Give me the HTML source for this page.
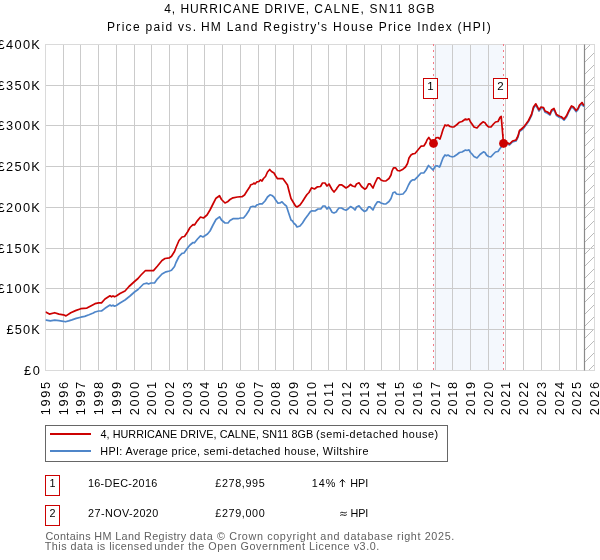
<!DOCTYPE html>
<html><head><meta charset="utf-8"><title>4, HURRICANE DRIVE, CALNE, SN11 8GB</title>
<style>html,body{margin:0;padding:0;background:#fff;}body{width:600px;height:560px;overflow:hidden;font-family:"Liberation Sans",sans-serif;}svg{display:block}</style>
</head><body>
<svg width="600" height="560" viewBox="0 0 600 560" font-family="Liberation Sans, sans-serif">
<defs><clipPath id="pc"><rect x="45.5" y="44.5" width="549.0" height="326.0"/></clipPath></defs>
<rect width="600" height="560" fill="#ffffff"/>
<g style="opacity:0.999">
<rect x="433.5" y="44.5" width="70.0" height="326.0" fill="#f4f8fd"/>
<clipPath id="hc"><rect x="584.5" y="44.5" width="10.0" height="326.0"/></clipPath>
<path clip-path="url(#hc)" d="M583.5,51.5L595.5,39.5M583.5,63.5L595.5,51.5M583.5,75.5L595.5,63.5M583.5,87.5L595.5,75.5M583.5,99.5L595.5,87.5M583.5,111.5L595.5,99.5M583.5,123.5L595.5,111.5M583.5,135.5L595.5,123.5M583.5,147.5L595.5,135.5M583.5,159.5L595.5,147.5M583.5,171.5L595.5,159.5M583.5,183.5L595.5,171.5M583.5,195.5L595.5,183.5M583.5,207.5L595.5,195.5M583.5,219.5L595.5,207.5M583.5,231.5L595.5,219.5M583.5,243.5L595.5,231.5M583.5,255.5L595.5,243.5M583.5,267.5L595.5,255.5M583.5,279.5L595.5,267.5M583.5,291.5L595.5,279.5M583.5,303.5L595.5,291.5M583.5,315.5L595.5,303.5M583.5,327.5L595.5,315.5M583.5,339.5L595.5,327.5M583.5,351.5L595.5,339.5M583.5,363.5L595.5,351.5M583.5,375.5L595.5,363.5M583.5,387.5L595.5,375.5" stroke="#8c8c8c" stroke-width="0.6" fill="none"/>
<path d="M63.5,44.5V370.5M80.5,44.5V370.5M98.5,44.5V370.5M116.5,44.5V370.5M134.5,44.5V370.5M151.5,44.5V370.5M169.5,44.5V370.5M187.5,44.5V370.5M204.5,44.5V370.5M222.5,44.5V370.5M240.5,44.5V370.5M258.5,44.5V370.5M275.5,44.5V370.5M293.5,44.5V370.5M311.5,44.5V370.5M328.5,44.5V370.5M346.5,44.5V370.5M364.5,44.5V370.5M381.5,44.5V370.5M399.5,44.5V370.5M417.5,44.5V370.5M435.5,44.5V370.5M452.5,44.5V370.5M470.5,44.5V370.5M488.5,44.5V370.5M505.5,44.5V370.5M523.5,44.5V370.5M541.5,44.5V370.5M559.5,44.5V370.5M576.5,44.5V370.5M45.5,329.5H594.5M45.5,288.5H594.5M45.5,248.5H594.5M45.5,207.5H594.5M45.5,166.5H594.5M45.5,125.5H594.5M45.5,85.5H594.5" stroke="#cbcbcb" stroke-width="1" fill="none" shape-rendering="crispEdges"/>
<rect x="45.5" y="44.5" width="549.0" height="326.0" fill="none" stroke="#dadada" stroke-width="1" shape-rendering="crispEdges"/>
<path d="M584.5,44.5V370.5" stroke="#8a8a8a" stroke-width="1.2" fill="none"/>
<path d="M433.5,44.0V370.5" stroke="#f47a86" stroke-width="1" stroke-dasharray="2 4" fill="none"/>
<path d="M503.5,44.0V370.5" stroke="#f47a86" stroke-width="1" stroke-dasharray="2 4" fill="none"/>
<g clip-path="url(#pc)" fill="none" stroke-linejoin="round" stroke-linecap="round">
<polyline points="46.1,320.2 50.4,320.9 54.7,320.2 59.0,320.7 63.4,321.3 65.4,321.8 68.7,320.9 71.9,319.9 76.2,318.4 80.8,317.2 84.7,316.4 89.0,314.8 93.3,313.0 95.0,312.0 98.7,311.0 101.5,311.0 105.0,308.3 110.0,305.0 111.5,306.0 113.0,305.2 114.5,306.2 116.3,305.5 120.0,303.0 125.0,300.0 130.0,296.0 134.5,292.0 138.0,289.5 141.0,286.5 143.5,284.0 147.0,283.2 148.5,284.0 151.0,283.0 154.5,283.0 157.5,278.8 162.0,274.0 166.0,271.8 169.5,271.0 171.5,270.3 174.5,266.5 176.0,262.5 179.0,256.5 182.0,253.3 184.0,253.0 187.5,248.0 190.0,245.0 193.0,242.5 194.5,242.8 197.5,239.0 200.5,235.8 203.0,237.0 204.5,236.0 207.5,234.0 210.0,231.0 213.0,225.0 216.0,219.5 219.5,216.8 221.5,220.0 225.0,223.0 228.0,223.0 230.0,220.5 233.0,218.7 238.0,218.7 240.5,218.0 243.5,218.0 246.0,215.0 249.0,210.5 250.5,207.0 253.0,206.3 255.0,206.8 257.0,204.8 258.3,204.5 260.0,203.8 262.2,203.8 265.0,201.0 267.5,197.0 270.0,194.8 272.0,195.5 274.0,197.2 275.7,200.0 278.0,203.2 280.0,203.0 282.0,201.8 284.5,204.5 286.5,206.2 288.0,211.0 290.0,217.0 291.0,220.0 292.5,221.0 294.0,223.5 295.5,224.5 297.0,227.0 300.0,226.0 302.5,223.0 305.0,219.0 308.0,215.0 310.5,211.5 312.0,210.8 315.0,211.0 318.0,209.0 321.0,208.8 323.0,206.0 325.0,206.0 327.0,209.0 328.7,207.0 330.0,208.5 332.0,212.2 334.0,213.0 336.5,211.8 337.0,210.5 339.0,208.0 341.5,208.0 344.0,209.5 346.0,210.2 348.0,209.0 350.5,206.5 353.0,208.0 355.0,210.0 356.5,207.0 359.0,205.8 361.5,209.0 364.5,211.5 366.5,210.5 368.5,206.8 370.0,206.8 373.0,210.0 375.0,205.5 377.5,201.8 379.0,201.8 381.0,203.0 384.0,204.0 386.0,203.8 389.0,201.5 391.0,198.5 393.0,192.8 395.0,192.0 396.5,194.0 399.5,194.5 403.0,194.0 406.0,190.5 408.5,185.0 410.5,181.5 412.5,179.8 414.5,179.8 417.5,176.8 421.0,173.0 424.0,172.8 426.0,170.0 428.5,165.5 430.0,167.0 433.0,170.0 435.5,166.0 437.0,165.8 439.5,167.0 440.3,165.5 441.5,162.0 443.0,158.0 445.0,155.0 446.5,155.8 448.0,155.0 450.0,156.2 452.0,156.8 454.0,156.5 457.0,154.5 459.5,152.5 462.0,152.0 465.5,150.0 467.0,150.5 469.0,149.8 470.5,152.5 472.0,154.0 474.0,156.5 477.0,158.0 480.0,154.5 483.5,151.8 485.0,152.5 486.5,155.0 488.5,156.5 491.0,156.8 493.5,154.0 495.5,152.0 498.0,151.5 500.0,148.5 502.0,146.0 503.5,144.0 507.0,143.5 509.5,145.0 512.5,142.0 516.0,141.0 518.0,137.0 519.5,131.6 521.5,130.1 523.7,128.1 526.0,125.1 528.5,121.6 531.5,115.6 533.5,108.2 535.8,105.0 537.5,108.2 539.0,111.0 541.0,108.2 543.5,108.7 545.0,112.2 547.5,113.2 550.0,115.1 551.5,111.2 554.0,109.7 556.5,115.6 559.6,117.4 561.5,117.9 564.0,120.2 566.5,116.9 569.0,111.5 571.5,107.1 573.5,108.2 576.2,111.7 578.0,109.7 579.5,106.2 582.0,103.7 583.5,106.2" stroke="#4f86c9" stroke-width="1.7"/>
<polyline points="46.1,312.2 49.4,314.1 54.7,312.7 59.0,314.1 63.4,314.8 66.0,315.9 70.8,312.7 75.5,310.6 80.8,308.7 86.9,308.1 92.2,305.2 95.0,303.7 98.7,302.8 101.5,302.8 105.0,299.0 110.0,295.8 111.5,296.8 113.0,295.9 114.5,296.8 116.3,296.0 120.0,293.5 125.0,291.0 129.0,286.5 134.5,281.5 138.0,278.5 141.0,275.0 145.5,270.5 153.5,270.6 157.5,266.0 162.0,260.5 165.0,258.5 169.5,257.8 171.5,256.3 174.5,251.5 176.0,247.5 179.0,240.5 182.0,237.0 184.5,236.5 187.5,232.0 190.0,227.5 193.0,224.6 194.5,224.9 197.5,220.6 200.5,217.0 203.5,218.0 207.0,215.0 210.0,210.0 213.0,204.0 216.0,198.2 219.5,195.7 221.5,199.5 225.0,203.0 227.5,201.8 230.0,199.5 233.0,197.8 237.5,197.0 242.0,196.7 244.5,195.0 247.0,191.0 250.0,186.5 250.5,185.0 253.0,184.0 254.0,183.0 255.0,184.0 257.0,181.8 259.0,181.5 260.5,179.8 262.0,181.0 263.5,178.5 265.5,176.5 267.5,172.0 269.7,169.5 271.5,171.5 274.0,173.0 275.7,176.0 277.5,178.7 283.0,178.7 285.0,181.5 287.5,185.0 289.0,191.0 291.0,198.5 293.7,203.0 295.5,206.0 297.0,207.0 300.0,205.0 302.5,201.5 305.0,197.5 307.0,194.5 309.0,192.5 311.5,187.8 314.5,189.0 317.5,186.8 320.5,186.5 322.5,183.0 325.0,183.0 327.0,186.0 329.0,184.0 332.0,189.5 334.0,192.0 336.5,189.0 337.0,188.0 339.5,184.8 341.5,184.8 344.0,186.5 346.0,188.0 348.0,186.8 350.5,184.5 352.5,186.0 355.0,186.8 356.5,184.0 359.0,182.8 361.5,186.5 364.7,189.2 366.5,188.0 368.5,183.8 370.0,183.8 373.0,188.0 375.0,183.0 377.5,177.8 379.0,177.8 381.0,180.0 383.5,181.0 386.0,180.8 389.0,178.5 391.0,175.0 392.0,171.0 393.5,167.8 395.5,167.8 397.5,170.5 400.0,170.8 403.0,169.2 405.5,167.0 407.5,163.5 409.0,158.0 411.0,155.0 413.0,153.8 415.0,153.5 417.5,150.5 421.0,146.2 424.0,145.8 426.0,142.5 427.0,140.0 428.8,137.5 430.5,140.0 433.5,143.5 436.0,137.8 438.0,137.5 440.0,139.0 441.5,134.5 443.0,129.5 445.0,125.0 446.5,125.8 448.0,125.0 450.0,126.5 452.0,127.0 454.0,126.8 457.0,124.5 459.5,122.2 462.0,121.5 465.5,119.0 467.0,119.8 469.0,118.8 470.5,122.0 472.0,124.0 474.0,127.0 477.0,128.0 480.0,124.5 483.0,121.8 485.0,122.8 486.5,125.0 488.5,126.8 491.0,127.0 493.5,124.0 495.5,122.0 498.0,121.5 500.0,117.5 501.2,116.4 503.5,143.5 507.0,142.5 509.5,144.0 512.5,141.0 516.0,140.0 518.0,136.0 519.5,130.5 521.5,129.0 523.7,127.0 526.0,124.0 528.5,120.5 531.5,114.5 533.5,107.0 535.8,103.8 537.5,107.0 539.0,109.8 541.0,107.0 543.5,107.5 545.0,111.0 547.5,112.0 550.0,114.0 551.5,110.0 554.0,108.5 556.5,114.5 559.6,116.3 561.5,116.8 564.0,119.1 566.5,115.8 569.0,110.3 571.5,105.9 573.5,107.0 576.2,110.5 578.0,108.5 579.5,105.0 582.0,102.5 583.5,105.0" stroke="#cc0000" stroke-width="1.7"/>
</g>
<circle cx="433.5" cy="143.4" r="4.4" fill="#cc0000"/>
<circle cx="503.5" cy="143.4" r="4.4" fill="#cc0000"/>
<rect x="423.5" y="78.5" width="14" height="20" fill="#fff" stroke="#cc0000" stroke-width="1"/>
<text x="430.5" y="90" font-size="11.5" text-anchor="middle" fill="#000">1</text>
<rect x="493.5" y="78.5" width="14" height="20" fill="#fff" stroke="#cc0000" stroke-width="1"/>
<text x="500.5" y="90" font-size="11.5" text-anchor="middle" fill="#000">2</text>
<rect x="45.5" y="425.5" width="402" height="36" fill="#fff" stroke="#666" stroke-width="1"/>
<path d="M50,434H91" stroke="#cc0000" stroke-width="2"/>
<path d="M50,451H91" stroke="#4f86c9" stroke-width="2"/>
<rect x="45.5" y="475.5" width="14" height="20" fill="#fff" stroke="#cc0000" stroke-width="1"/>
<rect x="45.5" y="505.5" width="14" height="20" fill="#fff" stroke="#cc0000" stroke-width="1"/>
<text id="y0" x="39.9" y="374.9" font-size="12.8" text-anchor="end" fill="#000" textLength="16" lengthAdjust="spacing">£0</text>
<text id="y50K" x="39.9" y="333.9" font-size="12.8" text-anchor="end" fill="#000" textLength="33.5" lengthAdjust="spacing">£50K</text>
<text id="y100K" x="39.9" y="292.9" font-size="12.8" text-anchor="end" fill="#000" textLength="42.3" lengthAdjust="spacing">£100K</text>
<text id="y150K" x="39.9" y="252.9" font-size="12.8" text-anchor="end" fill="#000" textLength="42.3" lengthAdjust="spacing">£150K</text>
<text id="y200K" x="39.9" y="211.9" font-size="12.8" text-anchor="end" fill="#000" textLength="42.3" lengthAdjust="spacing">£200K</text>
<text id="y250K" x="39.9" y="170.9" font-size="12.8" text-anchor="end" fill="#000" textLength="42.3" lengthAdjust="spacing">£250K</text>
<text id="y300K" x="39.9" y="129.9" font-size="12.8" text-anchor="end" fill="#000" textLength="42.3" lengthAdjust="spacing">£300K</text>
<text id="y350K" x="39.9" y="89.9" font-size="12.8" text-anchor="end" fill="#000" textLength="42.3" lengthAdjust="spacing">£350K</text>
<text id="y400K" x="39.9" y="48.9" font-size="12.8" text-anchor="end" fill="#000" textLength="42.3" lengthAdjust="spacing">£400K</text>
<text transform="translate(49.9,415.2) rotate(-90)" font-size="12.8" textLength="33.3" lengthAdjust="spacing" fill="#000" id="x1995">1995</text>
<text transform="translate(67.9,415.2) rotate(-90)" font-size="12.8" textLength="33.3" lengthAdjust="spacing" fill="#000" id="x1996">1996</text>
<text transform="translate(84.9,415.2) rotate(-90)" font-size="12.8" textLength="33.3" lengthAdjust="spacing" fill="#000" id="x1997">1997</text>
<text transform="translate(102.9,415.2) rotate(-90)" font-size="12.8" textLength="33.3" lengthAdjust="spacing" fill="#000" id="x1998">1998</text>
<text transform="translate(120.9,415.2) rotate(-90)" font-size="12.8" textLength="33.3" lengthAdjust="spacing" fill="#000" id="x1999">1999</text>
<text transform="translate(138.9,415.2) rotate(-90)" font-size="12.8" textLength="33.3" lengthAdjust="spacing" fill="#000" id="x2000">2000</text>
<text transform="translate(155.9,415.2) rotate(-90)" font-size="12.8" textLength="33.3" lengthAdjust="spacing" fill="#000" id="x2001">2001</text>
<text transform="translate(173.9,415.2) rotate(-90)" font-size="12.8" textLength="33.3" lengthAdjust="spacing" fill="#000" id="x2002">2002</text>
<text transform="translate(191.9,415.2) rotate(-90)" font-size="12.8" textLength="33.3" lengthAdjust="spacing" fill="#000" id="x2003">2003</text>
<text transform="translate(208.9,415.2) rotate(-90)" font-size="12.8" textLength="33.3" lengthAdjust="spacing" fill="#000" id="x2004">2004</text>
<text transform="translate(226.9,415.2) rotate(-90)" font-size="12.8" textLength="33.3" lengthAdjust="spacing" fill="#000" id="x2005">2005</text>
<text transform="translate(244.9,415.2) rotate(-90)" font-size="12.8" textLength="33.3" lengthAdjust="spacing" fill="#000" id="x2006">2006</text>
<text transform="translate(262.9,415.2) rotate(-90)" font-size="12.8" textLength="33.3" lengthAdjust="spacing" fill="#000" id="x2007">2007</text>
<text transform="translate(279.9,415.2) rotate(-90)" font-size="12.8" textLength="33.3" lengthAdjust="spacing" fill="#000" id="x2008">2008</text>
<text transform="translate(297.9,415.2) rotate(-90)" font-size="12.8" textLength="33.3" lengthAdjust="spacing" fill="#000" id="x2009">2009</text>
<text transform="translate(315.9,415.2) rotate(-90)" font-size="12.8" textLength="33.3" lengthAdjust="spacing" fill="#000" id="x2010">2010</text>
<text transform="translate(332.9,415.2) rotate(-90)" font-size="12.8" textLength="33.3" lengthAdjust="spacing" fill="#000" id="x2011">2011</text>
<text transform="translate(350.9,415.2) rotate(-90)" font-size="12.8" textLength="33.3" lengthAdjust="spacing" fill="#000" id="x2012">2012</text>
<text transform="translate(368.9,415.2) rotate(-90)" font-size="12.8" textLength="33.3" lengthAdjust="spacing" fill="#000" id="x2013">2013</text>
<text transform="translate(385.9,415.2) rotate(-90)" font-size="12.8" textLength="33.3" lengthAdjust="spacing" fill="#000" id="x2014">2014</text>
<text transform="translate(403.9,415.2) rotate(-90)" font-size="12.8" textLength="33.3" lengthAdjust="spacing" fill="#000" id="x2015">2015</text>
<text transform="translate(421.9,415.2) rotate(-90)" font-size="12.8" textLength="33.3" lengthAdjust="spacing" fill="#000" id="x2016">2016</text>
<text transform="translate(439.9,415.2) rotate(-90)" font-size="12.8" textLength="33.3" lengthAdjust="spacing" fill="#000" id="x2017">2017</text>
<text transform="translate(456.9,415.2) rotate(-90)" font-size="12.8" textLength="33.3" lengthAdjust="spacing" fill="#000" id="x2018">2018</text>
<text transform="translate(474.9,415.2) rotate(-90)" font-size="12.8" textLength="33.3" lengthAdjust="spacing" fill="#000" id="x2019">2019</text>
<text transform="translate(492.9,415.2) rotate(-90)" font-size="12.8" textLength="33.3" lengthAdjust="spacing" fill="#000" id="x2020">2020</text>
<text transform="translate(509.9,415.2) rotate(-90)" font-size="12.8" textLength="33.3" lengthAdjust="spacing" fill="#000" id="x2021">2021</text>
<text transform="translate(527.9,415.2) rotate(-90)" font-size="12.8" textLength="33.3" lengthAdjust="spacing" fill="#000" id="x2022">2022</text>
<text transform="translate(545.9,415.2) rotate(-90)" font-size="12.8" textLength="33.3" lengthAdjust="spacing" fill="#000" id="x2023">2023</text>
<text transform="translate(563.9,415.2) rotate(-90)" font-size="12.8" textLength="33.3" lengthAdjust="spacing" fill="#000" id="x2024">2024</text>
<text transform="translate(580.9,415.2) rotate(-90)" font-size="12.8" textLength="33.3" lengthAdjust="spacing" fill="#000" id="x2025">2025</text>
<text transform="translate(598.9,415.2) rotate(-90)" font-size="12.8" textLength="33.3" lengthAdjust="spacing" fill="#000" id="x2026">2026</text>
<text x="52.5" y="486.8" font-size="10.8" text-anchor="middle" fill="#000">1</text>
<path d="M342.4,487V479.7M339.8,482.3L342.4,479.5L345.0,482.3" stroke="#000" stroke-width="0.95" fill="none"/>
<text x="52.5" y="516.8" font-size="10.8" text-anchor="middle" fill="#000">2</text>
<path d="M340.2,513.0q1.6,-1.4 3.3,-0.4t3.3,-0.5M340.2,515.5q1.6,-1.4 3.3,-0.4t3.3,-0.5" stroke="#000" stroke-width="0.9" fill="none"/>
<text id="t1a" x="164.26" y="12.6" font-size="12" text-anchor="start" fill="#000" textLength="144.88" lengthAdjust="spacing">4, HURRICANE DRIVE,</text>
<text id="t1b" x="314.35" y="12.6" font-size="12" text-anchor="start" fill="#000" textLength="120.23" lengthAdjust="spacing">CALNE, SN11 8GB</text>
<text id="t2a" x="107.02" y="31.0" font-size="12" text-anchor="start" fill="#000" textLength="88.99" lengthAdjust="spacing">Price paid vs.</text>
<text id="t2b" x="200.91" y="31.0" font-size="12" text-anchor="start" fill="#000" textLength="289.83" lengthAdjust="spacing">HM Land Registry's House Price Index (HPI)</text>
<text id="l1a" x="100.5" y="438" font-size="10.8" text-anchor="start" fill="#000" textLength="212.61" lengthAdjust="spacing">4, HURRICANE DRIVE, CALNE, SN11 8GB</text>
<text id="l1b" x="316.09" y="438" font-size="10.8" text-anchor="start" fill="#000" textLength="122.13" lengthAdjust="spacing">(semi-detached house)</text>
<text id="l2a" x="100.2" y="455" font-size="10.8" text-anchor="start" fill="#000" textLength="99.72" lengthAdjust="spacing">HPI: Average price,</text>
<text id="l2b" x="203.67" y="455" font-size="10.8" text-anchor="start" fill="#000" textLength="115.45" lengthAdjust="spacing">semi-detached house,</text>
<text id="l2c" x="322.72" y="455" font-size="10.8" text-anchor="start" fill="#000" textLength="45.78" lengthAdjust="spacing">Wiltshire</text>
<text id="d1" x="87.9" y="486.8" font-size="10.8" text-anchor="start" fill="#000" textLength="69.35" lengthAdjust="spacing">16-DEC-2016</text>
<text id="d2" x="88.04" y="516.8" font-size="10.8" text-anchor="start" fill="#000" textLength="70.28" lengthAdjust="spacing">27-NOV-2020</text>
<text id="p1" x="215.3" y="486.8" font-size="10.8" text-anchor="start" fill="#000" textLength="49.43" lengthAdjust="spacing">£278,995</text>
<text id="p2" x="215.3" y="516.8" font-size="10.8" text-anchor="start" fill="#000" textLength="49.42" lengthAdjust="spacing">£279,000</text>
<text id="pc" x="311.74" y="486.8" font-size="10.8" text-anchor="start" fill="#000" textLength="23.6" lengthAdjust="spacing">14%</text>
<text id="h1" x="350.15" y="486.8" font-size="10.8" text-anchor="start" fill="#000" textLength="18.05" lengthAdjust="spacing">HPI</text>
<text id="h2" x="350.58" y="516.8" font-size="10.8" text-anchor="start" fill="#000" textLength="17.61" lengthAdjust="spacing">HPI</text>
<text id="f1a" x="45.42" y="540" font-size="10.8" text-anchor="start" fill="#606060" textLength="140.81" lengthAdjust="spacing">Contains HM Land Registry</text>
<text id="f1b" x="189.84" y="540" font-size="10.8" text-anchor="start" fill="#606060" textLength="264.43" lengthAdjust="spacing">data © Crown copyright and database right 2025.</text>
<text id="f2a" x="44.77" y="550" font-size="10.8" text-anchor="start" fill="#606060" textLength="107.41" lengthAdjust="spacing">This data is licensed</text>
<text id="f2b" x="154.19" y="550" font-size="10.8" text-anchor="start" fill="#606060" textLength="225.08" lengthAdjust="spacing">under the Open Government Licence v3.0.</text>
</g>
</svg>
</body></html>
